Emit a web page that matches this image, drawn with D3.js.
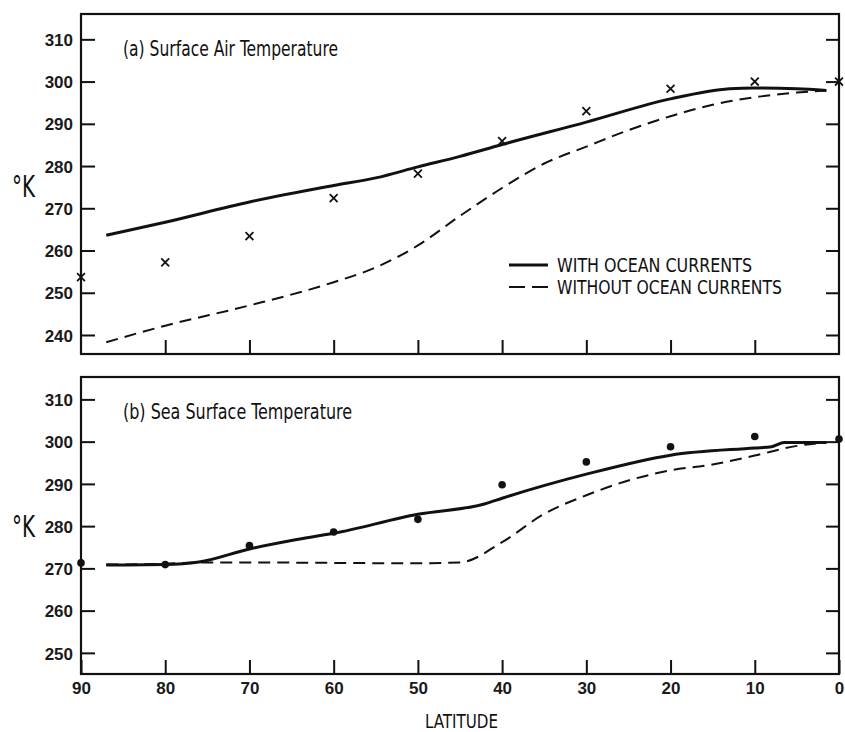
<!DOCTYPE html>
<html>
<head>
<meta charset="utf-8">
<script src="https://cdn.jsdelivr.net/npm/d3@7"></script>
<style>
  body { margin: 0; background: #fff; }
  svg { display: block; }
  .tick text { font-family: "Liberation Sans", Arial, sans-serif; font-size: 17px; font-weight: bold; fill: #1a1a1a; }
  .lbl { font-family: "Liberation Sans Narrow", "DejaVu Sans Condensed", "Roboto Condensed", sans-serif; fill: #111; }
</style>
</head>
<body>
<div id="chart"></div>
<script>
// latitude ticks and values
var latTicks = [90, 80, 70, 60, 50, 40, 30, 20, 10, 0];
var tempTicksTop = [240, 250, 260, 270, 280, 290, 300, 310];
var tempTicksBot = [250, 260, 270, 280, 290, 300, 310];

// (a) surface air temperature
var airLat = [87, 80, 70, 60, 55, 50, 45, 40, 30, 20, 13, 10, 5, 1.5];
var airWith = [263.6, 266.7, 271.5, 275.4, 277.2, 279.8, 282.3, 285.1, 290.4, 295.9, 298.3, 298.5, 298.3, 297.9];
var airWithoutLat = [87, 80, 70, 60, 55, 50, 45, 40, 35, 30, 25, 20, 15, 10, 5, 1.5];
var airWithout = [238.3, 242.2, 247, 252.5, 256, 261.2, 268.2, 274.8, 280.6, 284.6, 288.5, 291.8, 294.5, 296.3, 297.4, 297.9];
var airObsLat = [90, 80, 70, 60, 50, 40, 30, 20, 10, 0];
var airObs = [253.7, 257.2, 263.4, 272.4, 278.2, 285.9, 293.0, 298.3, 300.0, 300.0];

// (b) sea surface temperature
var seaLat = [87, 80, 76, 70, 65, 60, 50, 42, 40, 30, 20, 10, 8, 6.5, 3.5, 1.5];
var seaWith = [270.8, 270.9, 271.5, 274.6, 276.6, 278.3, 282.8, 285.3, 286.6, 292.3, 296.8, 298.5, 298.8, 299.8, 299.8, 299.8];
var seaWithoutLat = [87, 80, 76, 70, 60, 50, 45, 40, 35, 30, 25, 20, 15, 10, 5, 1.5];
var seaWithout = [270.9, 271.1, 271.4, 271.4, 271.3, 271.2, 271.4, 276.2, 282.9, 287.3, 290.8, 293.2, 294.6, 296.7, 299.0, 299.8];
var seaObsLat = [90, 80, 70, 60, 50, 40, 30, 20, 10, 0];
var seaObs = [271.3, 270.9, 275.4, 278.6, 281.6, 289.8, 295.2, 298.8, 301.2, 300.6];

var width = 845, height = 732;
var left = 81, right = 839;

var svg = d3.select("#chart").append("svg")
	.attr("width", width)
	.attr("height", height);

var x = d3.scaleLinear().domain([90, 0]).range([left, right]);

function zip(a, b) {
	return a.map(function(d, i) { return {lat: d, t: b[i]}; });
}

function panel(top, bottom, ydomain, yticks, title, titleLen, lines, obs, obsType, showLabels) {
	var y = d3.scaleLinear().domain(ydomain).range([bottom, top]);
	var g = svg.append("g");

	// left axis, ticks inside
	g.append("g")
		.attr("transform", "translate(" + left + ",0)")
		.call(d3.axisLeft(y).tickValues(yticks).tickSizeInner(-14).tickSizeOuter(0).tickPadding(8).tickFormat(d3.format("d")))
		.call(function(a) { a.select(".domain").remove(); })
		.selectAll("line").attr("stroke", "#111").attr("stroke-width", 2);
	g.selectAll(".tick text").attr("dy", "0.36em");

	// right axis
	g.append("g")
		.attr("transform", "translate(" + right + ",0)")
		.call(d3.axisRight(y).tickValues(yticks).tickSizeInner(-13).tickSizeOuter(0).tickFormat(""))
		.call(function(a) { a.select(".domain").remove(); })
		.selectAll("line").attr("stroke", "#111").attr("stroke-width", 2);

	// bottom axis
	var bx = g.append("g")
		.attr("transform", "translate(0," + bottom + ")")
		.call(d3.axisBottom(x).tickValues(showLabels ? latTicks : latTicks.slice(1, -1))
			.tickSizeInner(-14).tickSizeOuter(0).tickPadding(8)
			.tickFormat(showLabels ? d3.format("d") : ""));
	bx.select(".domain").remove();
	bx.selectAll("line").attr("stroke", "#111").attr("stroke-width", 2);

	// frame
	g.append("rect")
		.attr("x", left)
		.attr("y", top)
		.attr("width", right - left)
		.attr("height", bottom - top)
		.attr("fill", "none")
		.attr("stroke", "#111")
		.attr("stroke-width", 2.2);

	g.append("text")
		.attr("class", "lbl")
		.attr("x", 123)
		.attr("y", top + 42)
		.style("font-size", "21px")
		.style("font-weight", 500)
		.attr("textLength", titleLen)
		.attr("lengthAdjust", "spacingAndGlyphs")
		.text(title);

	g.append("text")
		.attr("class", "lbl")
		.attr("x", 12)
		.attr("y", y(280) + (showLabels ? 11 : 31))
		.style("font-size", "30px")
		.attr("textLength", 23)
		.attr("lengthAdjust", "spacingAndGlyphs")
		.text("°K");

	var line = d3.line()
		.x(function(d) { return x(d.lat); })
		.y(function(d) { return y(d.t); })
		.curve(d3.curveMonotoneX);

	g.append("path")
		.datum(lines[0])
		.attr("d", line)
		.attr("fill", "none")
		.attr("stroke", "#111")
		.attr("stroke-width", 3);
	g.append("path")
		.datum(lines[1])
		.attr("d", line)
		.attr("fill", "none")
		.attr("stroke", "#111")
		.attr("stroke-width", 2)
		.attr("stroke-dasharray", "12,7");

	if (obsType == "x") {
		g.selectAll(".obs")
			.data(obs)
			.enter()
			.append("path")
			.attr("class", "obs")
			.attr("transform", function(d) { return "translate(" + x(d.lat) + "," + y(d.t) + ")"; })
			.attr("d", d3.symbol().type(d3.symbolTimes).size(42))
			.attr("fill", "none")
			.attr("stroke", "#111")
			.attr("stroke-width", 1.8);
	} else {
		g.selectAll(".obs")
			.data(obs)
			.enter()
			.append("circle")
			.attr("class", "obs")
			.attr("cx", function(d) { return x(d.lat); })
			.attr("cy", function(d) { return y(d.t); })
			.attr("r", 3.8)
			.attr("fill", "#111");
	}
	return y;
}

panel(14, 354, [235.5, 316], tempTicksTop, "(a) Surface Air Temperature", 215,
	[zip(airLat, airWith), zip(airWithoutLat, airWithout)], zip(airObsLat, airObs), "x", false);
panel(377, 674, [245, 315.3], tempTicksBot, "(b)  Sea Surface Temperature", 229,
	[zip(seaLat, seaWith), zip(seaWithoutLat, seaWithout)], zip(seaObsLat, seaObs), "o", true);

// legend
var legend = svg.append("g");
legend.append("line")
	.attr("x1", 509).attr("x2", 548).attr("y1", 265).attr("y2", 265)
	.attr("stroke", "#111").attr("stroke-width", 3);
legend.append("line")
	.attr("x1", 509).attr("x2", 548).attr("y1", 287).attr("y2", 287)
	.attr("stroke", "#111").attr("stroke-width", 2)
	.attr("stroke-dasharray", "16,7");
legend.append("text")
	.attr("class", "lbl")
	.attr("x", 557).attr("y", 272)
	.style("font-size", "19px").style("font-weight", 500)
	.attr("textLength", 195).attr("lengthAdjust", "spacingAndGlyphs")
	.text("WITH OCEAN CURRENTS");
legend.append("text")
	.attr("class", "lbl")
	.attr("x", 557).attr("y", 294)
	.style("font-size", "19px").style("font-weight", 500)
	.attr("textLength", 225).attr("lengthAdjust", "spacingAndGlyphs")
	.text("WITHOUT OCEAN CURRENTS");

svg.append("text")
	.attr("class", "lbl")
	.attr("x", 425).attr("y", 728)
	.style("font-size", "20px").style("font-weight", 500)
	.attr("textLength", 73).attr("lengthAdjust", "spacingAndGlyphs")
	.text("LATITUDE");
</script>
</body>
</html>
